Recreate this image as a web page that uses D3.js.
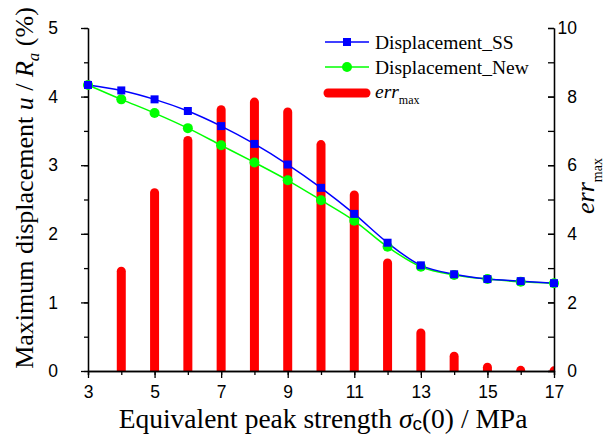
<!DOCTYPE html>
<html>
<head>
<meta charset="utf-8">
<script src="https://cdn.jsdelivr.net/npm/d3@7"></script>
<style>
  html, body { margin: 0; padding: 0; background: #fff; }
  svg { display: block; }
</style>
</head>
<body>
<svg id="chart" width="606" height="436"></svg>
<script>
// Equivalent peak strength σc(0) in MPa
const strength = [3, 4, 5, 6, 7, 8, 9, 10, 11, 12, 13, 14, 15, 16, 17];
// Maximum displacement u/Ra (%)
const dispSS  = [4.17, 4.09, 3.96, 3.79, 3.57, 3.31, 3.01, 2.67, 2.29, 1.87, 1.54, 1.41, 1.34, 1.31, 1.28];
const dispNew = [4.17, 3.96, 3.76, 3.54, 3.29, 3.04, 2.78, 2.49, 2.19, 1.81, 1.52, 1.40, 1.34, 1.30, 1.28];
// Maximum relative error (right axis)
const errStrength = [4, 5, 6, 7, 8, 9, 10, 11, 12, 13, 14, 15, 16, 17];
const errMax = [2.91, 5.20, 6.72, 7.62, 7.84, 7.55, 6.60, 5.13, 3.15, 1.11, 0.43, 0.11, 0.02, 0.005];

const xTicks = [3, 5, 7, 9, 11, 13, 15, 17];
const yLeftTicks = [0, 1, 2, 3, 4, 5];
const yRightTicks = [0, 2, 4, 6, 8, 10];

const svg = d3.select("#chart");
const mLeft = 88, mRight = 554, mTop = 28, mBottom = 371;

const x = d3.scaleLinear().domain([3, 17]).range([mLeft, mRight]);
const yL = d3.scaleLinear().domain([0, 5]).range([mBottom, mTop]);
const yR = d3.scaleLinear().domain([0, 10]).range([mBottom, mTop]);

const sans = "'Liberation Sans', Arial, sans-serif";
const serif = "'Liberation Serif', 'Times New Roman', serif";
const intFmt = d3.format("d");

svg.append("defs").append("clipPath").attr("id", "plotClip")
  .append("rect").attr("x", mLeft).attr("y", mTop - 20)
  .attr("width", mRight - mLeft).attr("height", mBottom - mTop + 20);

// error bars, drawn as thick round-capped stems behind the curves
svg.append("g").attr("clip-path", "url(#plotClip)")
  .selectAll("line").data(errMax).join("line")
  .attr("x1", (d, i) => x(errStrength[i]))
  .attr("x2", (d, i) => x(errStrength[i]))
  .attr("y1", yR(0) + 10)
  .attr("y2", d => yR(d))
  .attr("stroke", "#ff0000")
  .attr("stroke-width", 9)
  .attr("stroke-linecap", "round");

// axes
const axisStyle = g => {
  g.selectAll(".domain").attr("stroke", "#000").attr("stroke-width", 1.3);
  g.selectAll(".tick line").attr("stroke", "#000").attr("stroke-width", 1.3);
  g.selectAll("text").attr("font-family", sans).attr("font-size", 17.5).attr("fill", "#000");
};

// bottom axis: minor ticks at every integer, labelled odd values
svg.append("g").attr("transform", `translate(0,${mBottom})`)
  .call(d3.axisBottom(x).tickValues(d3.range(3, 18)).tickSize(4).tickFormat(""))
  .call(axisStyle);
svg.append("g").attr("transform", `translate(0,${mBottom})`)
  .call(d3.axisBottom(x).tickValues(xTicks).tickSize(7).tickPadding(8).tickSizeOuter(0).tickFormat(intFmt))
  .call(axisStyle);

// left axis
svg.append("g").attr("transform", `translate(${mLeft},0)`)
  .call(d3.axisLeft(yL).tickValues(d3.range(0, 5.01, 0.5)).tickSize(4).tickFormat("").tickSizeOuter(0))
  .call(axisStyle);
svg.append("g").attr("transform", `translate(${mLeft},0)`)
  .call(d3.axisLeft(yL).tickValues(yLeftTicks).tickSize(7).tickPadding(23).tickSizeOuter(0).tickFormat(intFmt))
  .call(axisStyle);

// right axis, ticks pointing inward, labels right-aligned
svg.append("g").attr("transform", `translate(${mRight},0)`)
  .call(d3.axisRight(yR).tickValues(d3.range(0, 11)).tickSize(-6).tickFormat("").tickSizeOuter(0))
  .call(axisStyle);
const rAxis = svg.append("g").attr("transform", `translate(${mRight},0)`)
  .call(d3.axisRight(yR).tickValues(yRightTicks).tickSize(-6).tickSizeOuter(0).tickFormat(intFmt))
  .call(axisStyle);
rAxis.selectAll(".tick text").attr("x", 23).attr("text-anchor", "end");

// curves
const line = (vals) => d3.line()
  .x((d, i) => x(strength[i]))
  .y(d => yL(d))
  .curve(d3.curveCatmullRom.alpha(0.5))(vals);

svg.append("path").attr("d", line(dispNew))
  .attr("fill", "none").attr("stroke", "#00ff00").attr("stroke-width", 1.5);
svg.append("path").attr("d", line(dispSS))
  .attr("fill", "none").attr("stroke", "#0000ff").attr("stroke-width", 1.5);

svg.append("g").selectAll("circle").data(dispNew).join("circle")
  .attr("cx", (d, i) => x(strength[i])).attr("cy", d => yL(d))
  .attr("r", 5).attr("fill", "#00ff00");
svg.append("g").selectAll("rect").data(dispSS).join("rect")
  .attr("x", (d, i) => x(strength[i]) - 4).attr("y", d => yL(d) - 4)
  .attr("width", 8).attr("height", 8).attr("fill", "#0000ff");

// legend
const lg = svg.append("g");
lg.append("line").attr("x1", 325).attr("x2", 369).attr("y1", 42).attr("y2", 42)
  .attr("stroke", "#0000ff").attr("stroke-width", 1.5);
lg.append("rect").attr("x", 343).attr("y", 38).attr("width", 8).attr("height", 8).attr("fill", "#0000ff");
lg.append("text").attr("x", 375).attr("y", 48.5).attr("font-family", serif).attr("font-size", 19.5)
  .text("Displacement_SS");
lg.append("line").attr("x1", 325).attr("x2", 369).attr("y1", 67).attr("y2", 67)
  .attr("stroke", "#00ff00").attr("stroke-width", 1.5);
lg.append("circle").attr("cx", 347).attr("cy", 67).attr("r", 5).attr("fill", "#00ff00");
lg.append("text").attr("x", 375).attr("y", 73.5).attr("font-family", serif).attr("font-size", 19.5)
  .text("Displacement_New");
lg.append("line").attr("x1", 328).attr("x2", 366).attr("y1", 93).attr("y2", 93)
  .attr("stroke", "#ff0000").attr("stroke-width", 9).attr("stroke-linecap", "round");
const errLabel = lg.append("text").attr("x", 375).attr("y", 98).attr("font-family", serif).attr("font-size", 19.5);
errLabel.append("tspan").attr("font-style", "italic").text("err");
errLabel.append("tspan").attr("font-size", 12).attr("dy", 6).text("max");

// x axis title
const xt = svg.append("text").attr("x", 323).attr("y", 428).attr("text-anchor", "middle")
  .attr("font-family", serif).attr("font-size", 27.5);
xt.append("tspan").text("Equivalent peak strength ");
xt.append("tspan").attr("font-style", "italic").text("σ");
xt.append("tspan").attr("font-family", sans).attr("font-size", 19).attr("dy", 2).text("c");
xt.append("tspan").attr("dy", -2).text("(0) / MPa");

// left axis title
const yt = svg.append("text").attr("transform", "translate(33,188) rotate(-90)")
  .attr("text-anchor", "middle").attr("font-family", serif).attr("font-size", 26);
yt.append("tspan").text("Maximum displacement  ");
yt.append("tspan").attr("font-style", "italic").text("u");
yt.append("tspan").text(" / ");
yt.append("tspan").attr("font-style", "italic").text("R");
yt.append("tspan").attr("font-style", "italic").attr("font-size", 17).attr("dy", 6).text("a");
yt.append("tspan").attr("dy", -6).text(" (%)");

// right axis title
const rt = svg.append("text").attr("transform", "translate(594,186) rotate(-90)")
  .attr("text-anchor", "middle").attr("font-family", serif).attr("font-size", 26);
rt.append("tspan").attr("font-style", "italic").text("err");
rt.append("tspan").attr("font-size", 14).attr("dy", 8).text("max");
</script>
</body>
</html>
